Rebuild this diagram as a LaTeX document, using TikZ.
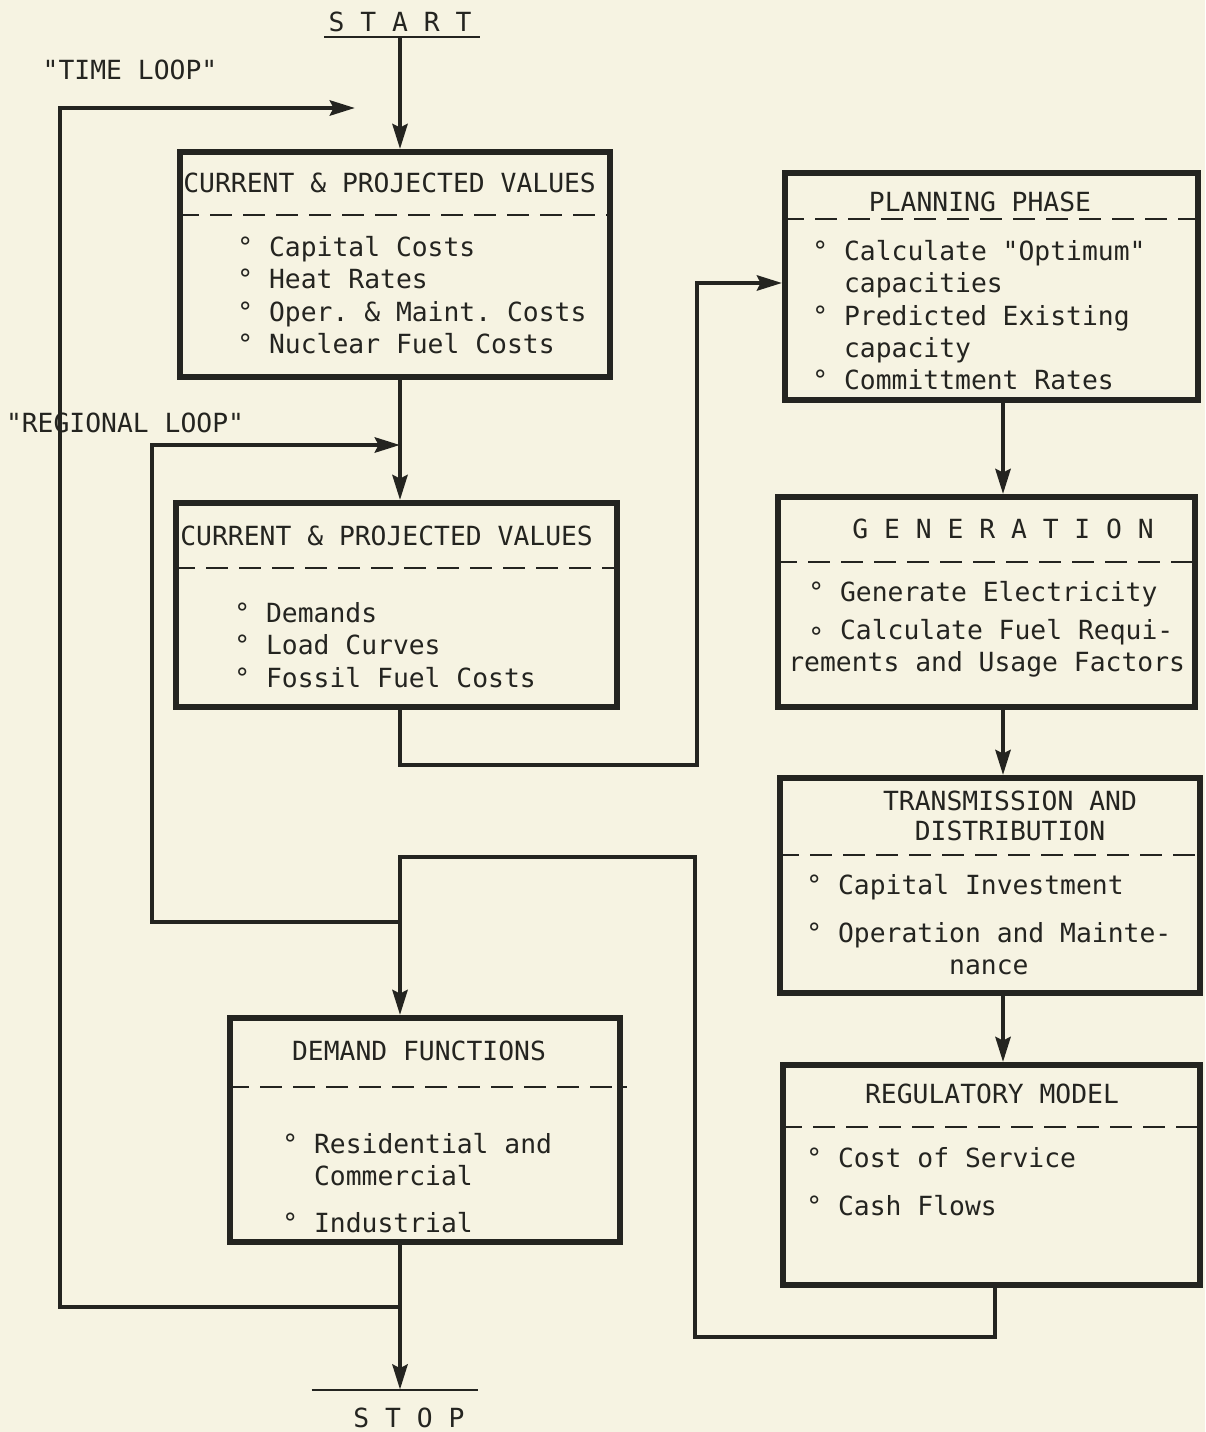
\documentclass[tikz,border=0pt]{standalone}
\usepackage{fontspec}
\setmonofont{DejaVu Sans Mono}
\usetikzlibrary{arrows.meta,fit}
\definecolor{paper}{RGB}{246,243,226}
\definecolor{ink}{RGB}{36,36,32}
\tikzset{
  blk/.style={draw=ink, line width=3.3pt, inner sep=0pt},
  sep/.style={draw=ink, line width=1.2pt, dash pattern=on 0.44cm off 0.22cm},
  wire/.style={draw=ink, line width=2.6pt},
  arr/.style={wire, -{Stealth[length=5mm,width=3mm,inset=0.7mm]}},
  txt/.style={text=ink, inner sep=0pt, font=\ttfamily\fontsize{15}{18.4}\selectfont},
  body/.style={txt, align=left, anchor=north west},
  bar/.style={inner sep=0pt, minimum height=0pt},
}
\begin{document}
\begin{tikzpicture}[x=0.02cm, y=-0.02cm]
\fill[paper] (0,0) rectangle (1205,1432);
\useasboundingbox (0,0) rectangle (1205,1432);
\coordinate (lc) at (400,0);
\coordinate (rc) at (1003,0);
\coordinate (rout) at (995,0);

% start, stop and loop labels
\node[txt, anchor=base] (start) at (400,32) {S T A R T};
\node[bar, minimum width=3.1cm] (startbar) at (402,37) {};
\draw[ink, line width=1.4pt] (startbar.west) -- (startbar.east);
\node[txt, anchor=base] (stop) at (409,1427) {S T O P};
\node[bar, minimum width=3.32cm] (stopbar) at (395,1390) {};
\draw[ink, line width=1.4pt] (stopbar.west) -- (stopbar.east);
\node[txt, anchor=base] (tloop) at (130,80) {"TIME LOOP"};
\node[txt, anchor=base] (rloop) at (125,432) {"REGIONAL LOOP"};

% left column
\node[blk, fit={(180,152) (610,377)}] (cpv1) {};
\node[txt, anchor=base west] (cpv1t) at (183,193) {CURRENT \& PROJECTED VALUES};
\draw[sep] (cpv1.west |- 0,215) -- (cpv1.east |- 0,215);
\node[body] (cpv1b) at (237,236) {° Capital Costs\\° Heat Rates\\° Oper. \& Maint. Costs\\° Nuclear Fuel Costs};

\node[blk, fit={(176,503) (617,707)}] (cpv2) {};
\node[txt, anchor=base west] (cpv2t) at (180,545) {CURRENT \& PROJECTED VALUES};
\draw[sep] (cpv2.west |- 0,568) -- (cpv2.east |- 0,568);
\node[body] (cpv2b) at (234,602) {° Demands\\° Load Curves\\° Fossil Fuel Costs};

\node[blk, fit={(230,1018) (620,1242)}] (dem) {};
\node[txt, anchor=base] (demt) at (419,1060) {DEMAND FUNCTIONS};
\draw[sep] (dem.west |- 0,1087) -- ++(400,0);
\node[body] (demb) at (282,1133) {° Residential and\\\hphantom{° }Commercial\\[8pt]° Industrial};

% right column
\node[blk, fit={(785,173) (1198,400)}] (plan) {};
\node[txt, anchor=base] (plant) at (980,212) {PLANNING PHASE};
\draw[sep] (plan.west |- 0,219) -- (plan.east |- 0,219);
\node[body] (planb) at (812,240) {° Calculate "Optimum"\\\hphantom{° }capacities\\° Predicted Existing\\\hphantom{° }capacity\\° Committment Rates};

\node[blk, fit={(778,497) (1195,707)}] (gen) {};
\node[txt, anchor=base west] (gent) at (852,538) {G E N E R A T I O N};
\draw[sep] (gen.west |- 0,562) -- (gen.east |- 0,562);
\node[body] (genb) at (788,581) {\hspace*{0.4cm}° Generate Electricity\\[3pt]\hspace*{0.4cm}∘ Calculate Fuel Requi-\\rements and Usage Factors};

\node[blk, fit={(780,778) (1200,993)}] (td) {};
\node[txt, anchor=base, align=center, font=\ttfamily\fontsize{15}{17}\selectfont] (tdt) at (1010,840) {TRANSMISSION AND\\DISTRIBUTION};
\draw[sep] (td.west |- 0,855) -- (td.east |- 0,855);
\node[body] (tdb) at (806,874) {° Capital Investment\\[8.8pt]° Operation and Mainte-\\\hphantom{° Operati}nance};

\node[blk, fit={(783,1065) (1200,1285)}] (reg) {};
\node[txt, anchor=base] (regt) at (992,1103) {REGULATORY MODEL};
\draw[sep] (reg.west |- 0,1127) -- (reg.east |- 0,1127);
\node[body] (regb) at (806,1147) {° Cost of Service\\[8.8pt]° Cash Flows};

% connectors
\draw[arr] (startbar.south -| lc) -- (cpv1.north -| lc);
\draw[arr] (cpv1.south -| lc) -- (cpv2.north -| lc);
\draw[arr] (cpv2.south -| lc) |- (697,765) |- (plan.west |- 0,283);
\draw[arr] (plan.south -| rc) -- (gen.north -| rc);
\draw[arr] (gen.south -| rc) -- (td.north -| rc);
\draw[arr] (td.south -| rc) -- (reg.north -| rc);
\draw[arr] (reg.south -| rout) |- (695,1337) |- (lc |- 0,857) -- (dem.north -| lc);
\draw[arr] (dem.south -| lc) -- (stopbar.north -| lc);
\draw[arr] (lc |- 0,922) -| (152,445) -- (lc |- 0,445);
\draw[arr] (lc |- 0,1307) -| (60,108) -- (355,108);
\end{tikzpicture}
\end{document}
